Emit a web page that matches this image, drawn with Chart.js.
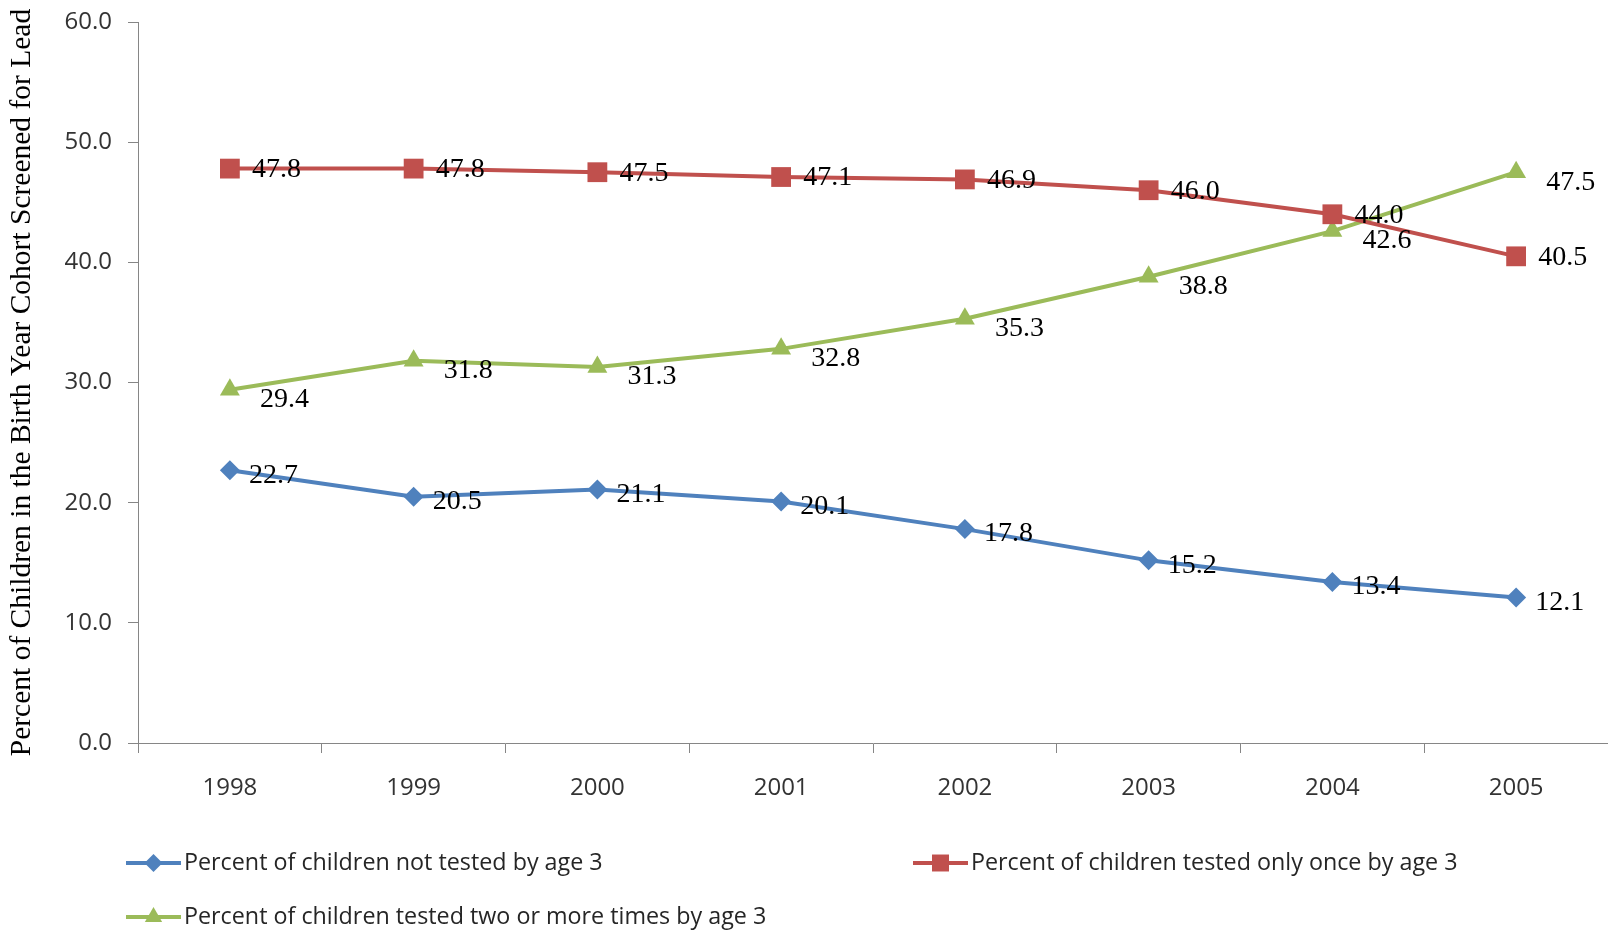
<!DOCTYPE html>
<html>
<head>
<meta charset="utf-8">
<script src="https://cdn.jsdelivr.net/npm/chart.js@4.4.1/dist/chart.umd.min.js"></script>
<style>
html,body{margin:0;padding:0;background:#fff;overflow:hidden;}
#wrap{width:1608px;height:930px;position:relative;overflow:hidden;}
canvas{display:block;}
</style>
</head>
<body>
<div id="wrap"><canvas id="c" width="1608" height="930"></canvas></div>
<script>
const categories = ['1998','1999','2000','2001','2002','2003','2004','2005'];
const notTested = [22.7,20.5,21.1,20.1,17.8,15.2,13.4,12.1];
const testedOnce = [47.8,47.8,47.5,47.1,46.9,46.0,44.0,40.5];
const testedTwoPlus = [29.4,31.8,31.3,32.8,35.3,38.8,42.6,47.5];
const seriesNames = ['Percent of children not tested by age 3','Percent of children tested only once by age 3','Percent of children tested two or more times by age 3'];
const yTitle = 'Percent of Children in the Birth Year Cohort Screened for Lead';

const BLUE='#4F81BD', RED='#C0504D', GREEN='#9BBB59';
const labelOffsets = [[19,5],[22,1],[30,10]];

const dataLabels = {
  id:'dataLabels',
  afterDatasetsDraw(chart){
    const ctx = chart.ctx;
    ctx.save();
    ctx.font = '28px "Liberation Serif", "Times New Roman", serif';
    ctx.fillStyle = '#000';
    ctx.textAlign = 'left';
    ctx.textBaseline = 'middle';
    chart.data.datasets.forEach((ds,i)=>{
      const meta = chart.getDatasetMeta(i);
      meta.data.forEach((pt,j)=>{
        ctx.fillText(ds.data[j].toFixed(1), pt.x + labelOffsets[i][0], pt.y + labelOffsets[i][1]);
      });
    });
    ctx.restore();
  }
};

const customLegend = {
  id:'customLegend',
  afterDraw(chart){
    const ctx = chart.ctx;
    const items = [
      {x:126, y:863, color:BLUE, style:'rectRot', r:9},
      {x:913, y:863, color:RED, style:'rect', r:12},
      {x:126, y:917, color:GREEN, style:'triangle', r:10}
    ];
    ctx.save();
    items.forEach((it,i)=>{
      ctx.strokeStyle = it.color;
      ctx.lineWidth = 4;
      ctx.beginPath();
      ctx.moveTo(it.x, it.y);
      ctx.lineTo(it.x+55, it.y);
      ctx.stroke();
      ctx.fillStyle = it.color;
      Chart.helpers.drawPoint(ctx, {pointStyle: it.style, radius: it.r, borderWidth:0, rotation:0}, it.x+27.5, it.y);
      ctx.fillStyle = '#262626';
      ctx.font = '23.3px "Open Sans", sans-serif';
      ctx.textAlign = 'left';
      ctx.textBaseline = 'middle';
      ctx.fillText(seriesNames[i], it.x+58, it.y);
    });
    ctx.restore();
  }
};

new Chart(document.getElementById('c'), {
  type:'line',
  data:{
    labels: categories,
    datasets:[
      {label:seriesNames[0], data:notTested, borderColor:BLUE, backgroundColor:BLUE, borderWidth:4, pointStyle:'rectRot', pointRadius:10, pointBorderWidth:0, tension:0},
      {label:seriesNames[1], data:testedOnce, borderColor:RED, backgroundColor:RED, borderWidth:4, pointStyle:'rect', pointRadius:14, pointBorderWidth:0, tension:0},
      {label:seriesNames[2], data:testedTwoPlus, borderColor:GREEN, backgroundColor:GREEN, borderWidth:4, pointStyle:'triangle', pointRadius:11.5, pointBorderWidth:0, tension:0}
    ]
  },
  options:{
    responsive:false,
    animation:false,
    layout:{autoPadding:false, padding:{top:22, right:0, bottom:0, left:0}},
    plugins:{legend:{display:false}, tooltip:{enabled:false}},
    scales:{
      x:{
        offset:true,
        grid:{offset:true, drawOnChartArea:false, drawTicks:true, tickLength:10, color:'#868686', lineWidth:1},
        border:{color:'#868686', width:1},
        ticks:{color:'#333', font:{family:'"Open Sans", sans-serif', size:24}, padding:21, maxRotation:0},
        afterFit(scale){ scale.height = 187; scale.paddingLeft = 0; scale.paddingRight = 0; }
      },
      y:{
        min:0, max:60,
        grid:{drawOnChartArea:false, drawTicks:true, tickLength:10, color:'#868686'},
        border:{color:'#868686', width:1},
        ticks:{stepSize:10, color:'#333', font:{family:'"Open Sans", sans-serif', size:24}, padding:16, callback:(v)=>Number(v).toFixed(1)},
        title:{display:true, text:yTitle, color:'#000', font:{family:'"Liberation Serif", "Times New Roman", serif', size:29.5}, padding:{top:5,bottom:0}},
        afterFit(scale){ scale.width = 138; scale.paddingTop = 0; scale.paddingBottom = 0; }
      }
    }
  },
  plugins:[dataLabels, customLegend]
});
</script>
</body>
</html>
